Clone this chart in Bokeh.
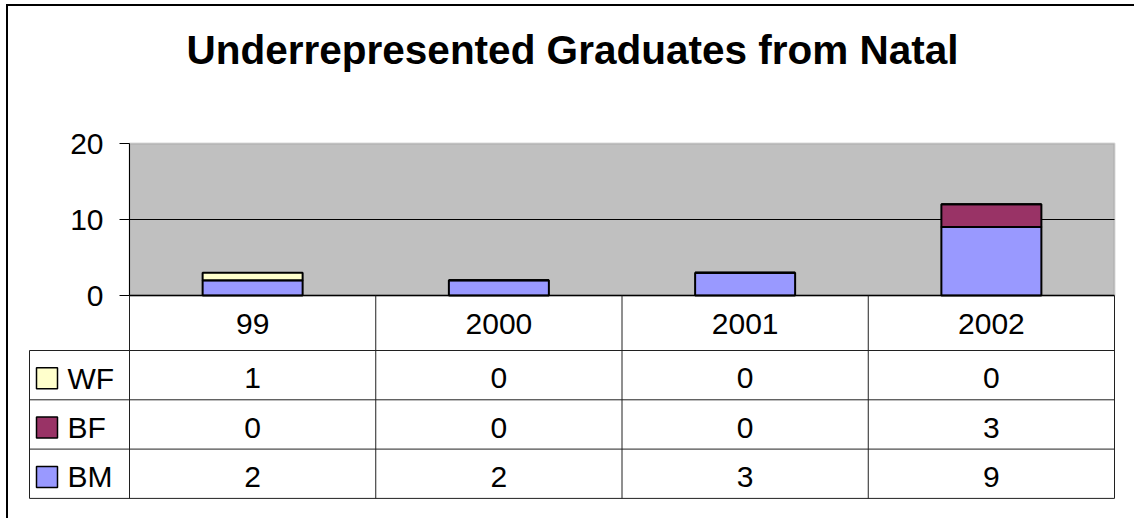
from bokeh.plotting import figure
from bokeh.models import Range1d, LinearAxis, FixedTicker, BoxAnnotation, ColumnDataSource
from bokeh.core.properties import value
from bokeh.embed import file_html
from bokeh.resources import INLINE

# ---------------- data ----------------
years = ["99", "2000", "2001", "2002"]
series = ["WF", "BF", "BM"]          # table order (top to bottom)
WF = [1, 0, 0, 0]
BF = [0, 0, 0, 3]
BM = [2, 2, 3, 9]
y_ticks = [0, 10, 20]
colors = {"WF": "#ffffcc", "BF": "#993366", "BM": "#9999ff"}
title_text = "Underrepresented Graduates from Natal"

FONT = "Liberation Sans"

# ---------------- layout (pixels) ----------------
W, H = 1134, 518
frame_l, frame_r, frame_t, frame_b = 26, 1118, 77, 502
axis_x = 129                # x of the value axis
cat_w = (1114 - 129) / 4    # width of one category column
legend_l = 29               # left edge of the table legend column
zero_y = 295                # y of value 0
unit_px = (295 - 143) / 20  # pixels per value unit
header_h = 55
row_h = 49.3

p = figure(width=W, height=H, output_backend="svg", toolbar_location=None,
           x_range=Range1d((frame_l - axis_x) / cat_w, (frame_r - axis_x) / cat_w),
           y_range=Range1d(-(frame_b - zero_y) / unit_px, (zero_y - frame_t) / unit_px),
           x_axis_location=None, y_axis_location=None,
           min_border_left=frame_l, min_border_right=W - frame_r,
           min_border_top=frame_t, min_border_bottom=H - frame_b,
           title=title_text)
p.extra_y_ranges = {"tbl": Range1d(-(frame_b - zero_y), zero_y - frame_t)}
p.outline_line_color = None
p.background_fill_color = "white"
p.border_fill_color = None
p.xgrid.visible = False
p.ygrid.visible = False
p.styles = {"box-shadow": "inset 6px 4px 0 0 #ffffff, inset 8px 6px 0 0 #000000",
            "background-color": "#ffffff"}

p.title.text_font = FONT
p.title.text_font_size = "40.5px"
p.title.text_font_style = "bold"
p.title.text_color = "black"
p.title.align = "center"

ncat = len(years)
xc = [i + 0.5 for i in range(ncat)]

# plot area background
p.add_layout(BoxAnnotation(left=0, right=ncat, bottom=y_ticks[0], top=y_ticks[-1],
                           fill_color="#c0c0c0", fill_alpha=1.0,
                           line_color="#808080", line_width=2, level="underlay"))

# gridlines
mid = [t for t in y_ticks if t not in (y_ticks[0], y_ticks[-1])]
p.segment(x0=[0] * len(mid), x1=[ncat] * len(mid), y0=mid, y1=mid,
          line_color="black", line_width=1)

# stacked bars
src = ColumnDataSource(dict(x=xc, BM=BM, BF=BF, WF=WF))
p.vbar_stack(["BM", "BF", "WF"], x="x", width=100 / cat_w, source=src,
             fill_color=[colors["BM"], colors["BF"], colors["WF"]],
             line_color="black", line_width=2)

# value axis
yax = LinearAxis(fixed_location=0, bounds=(y_ticks[0], y_ticks[-1]),
                 ticker=FixedTicker(ticks=y_ticks),
                 major_tick_out=10, major_tick_in=0,
                 minor_tick_out=0, minor_tick_in=0,
                 major_label_standoff=16,
                 axis_line_color="black", axis_line_width=1,
                 major_tick_line_color="black",
                 major_label_text_font=FONT,
                 major_label_text_font_size="30px",
                 major_label_text_color="black")
p.add_layout(yax, "left")

# ---------------- data table ----------------
lx = (legend_l - axis_x) / cat_w
row_bottoms = [-header_h - row_h * i for i in range(len(series) + 1)]
tbl_bottom = row_bottoms[-1]
# horizontal lines
p.segment(x0=[0], x1=[ncat], y0=[0], y1=[0], line_color="black", line_width=1.5,
          y_range_name="tbl")
p.segment(x0=[lx] * len(row_bottoms), x1=[ncat] * len(row_bottoms),
          y0=row_bottoms, y1=row_bottoms, line_color="#202020", line_width=1,
          y_range_name="tbl")
# vertical lines
vx = list(range(ncat + 1))
p.segment(x0=vx, x1=vx, y0=[0] * len(vx), y1=[tbl_bottom] * len(vx),
          line_color="#202020", line_width=1, y_range_name="tbl")
p.segment(x0=[lx], x1=[lx], y0=[row_bottoms[0]], y1=[tbl_bottom],
          line_color="#202020", line_width=1, y_range_name="tbl")

# header (category names), text centred on the digits
p.text(x=xc, y=[-28.5] * ncat, text=years, text_font=value(FONT),
       text_font_size="30px", text_color="black", text_align="center",
       text_baseline="middle", y_range_name="tbl")

vals = {"WF": WF, "BF": BF, "BM": BM}
for i, s in enumerate(series):
    cy = row_bottoms[i + 1] + 21.5
    p.text(x=xc, y=[cy] * ncat, text=[str(v) for v in vals[s]],
           text_font=value(FONT), text_font_size="30px", text_color="black",
           text_align="center", text_baseline="middle", y_range_name="tbl")
    p.scatter(x=[(46.5 - axis_x) / cat_w], y=[cy], marker="square", size=21,
              fill_color=colors[s], line_color="black", line_width=1.5,
              y_range_name="tbl")
    p.text(x=[(67 - axis_x) / cat_w], y=[cy], text=[s], text_font=value(FONT),
           text_font_size="30px", text_color="black", text_align="left",
           text_baseline="middle", y_range_name="tbl")

open("out.html", "w").write(file_html(p, INLINE))
